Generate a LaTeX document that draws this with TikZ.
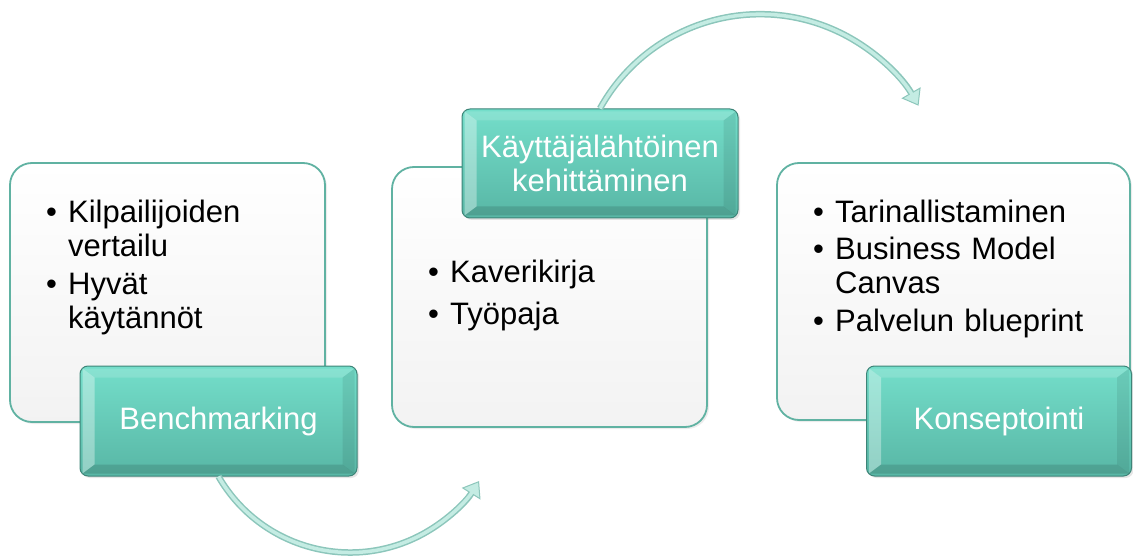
\documentclass[tikz,border=0pt]{standalone}
\usepackage{fontspec}
\setmainfont{Liberation Sans}
\usetikzlibrary{calc,arrows.meta,shadows}
\definecolor{tealA}{RGB}{116,222,202}
\definecolor{tealB}{RGB}{88,182,165}
\definecolor{tealE}{RGB}{62,132,120}
\definecolor{wbord}{RGB}{96,178,162}
\definecolor{arrowc}{RGB}{196,236,227}
\definecolor{arrowe}{RGB}{140,198,187}
\newcommand\bitem[1]{\noindent\makebox[22pt][l]{•}\begin{tabular}[t]{@{}l@{}}#1\end{tabular}\par}
\newcommand\gbevel[1]{%
  \fill[white,opacity=0.35] ($(#1.north west)+(3,-3)$) -- ($(#1.north west)+(15,-12)$) -- ($(#1.south west)+(15,12)$) -- ($(#1.south west)+(3,3)$) -- cycle;
  \fill[white,opacity=0.15] ($(#1.north west)+(3,-3)$) -- ($(#1.north east)+(-3,-3)$) -- ($(#1.north east)+(-15,-12)$) -- ($(#1.north west)+(15,-12)$) -- cycle;
  \fill[black,opacity=0.08] ($(#1.north east)+(-3,-3)$) -- ($(#1.south east)+(-3,3)$) -- ($(#1.south east)+(-15,12)$) -- ($(#1.north east)+(-15,-12)$) -- cycle;
  \fill[black,opacity=0.12] ($(#1.south west)+(3,3)$) -- ($(#1.south east)+(-3,3)$) -- ($(#1.south east)+(-15,12)$) -- ($(#1.south west)+(15,12)$) -- cycle;
}
\tikzset{
  whitebox/.style={draw=wbord, line width=1.8pt, rounded corners=22pt,
    top color=white, bottom color=black!5, inner sep=0pt,
    drop shadow={shadow xshift=2pt, shadow yshift=-2pt, opacity=0.15}},
  greenbox/.style={draw=tealE, line width=1pt, rounded corners=8pt,
    top color=tealA, bottom color=tealB, inner sep=0pt,
    drop shadow={shadow xshift=2pt, shadow yshift=-2pt, opacity=0.2}},
  greenlabel/.style={text=white, align=center, font=\fontsize{31}{34}\selectfont},
  itemtext/.style={anchor=north west, inner sep=0pt, text width=320pt,
    font=\fontsize{31}{34}\selectfont\setlength{\parskip}{#1}\raggedright},
  itemtext/.default=3pt,
  flowedge/.style={line width=6.5pt, arrowe,
    -{Triangle[length=15pt,width=22pt,line width=1pt,fill=arrowc]}},
  flowcore/.style={line width=3.5pt, arrowc, shorten >=13pt},
}
\begin{document}
\begin{tikzpicture}[x=1pt,y=1pt]
\useasboundingbox (0,0) rectangle (1133,-556);
% white boxes
\node[whitebox, minimum width=315pt, minimum height=259pt] (w1) at (167.5,-292.5) {};
\node[whitebox, minimum width=315pt, minimum height=260pt] (w2) at (549.5,-297) {};
\node[whitebox, minimum width=353pt, minimum height=257pt] (w3) at (953.5,-291.5) {};
% item texts
\node[itemtext] (t1) at (46,-199) {\bitem{Kilpailijoiden\\vertailu}\bitem{Hyvät\\käytännöt}};
\node[itemtext=8pt] (t2) at (428,-259) {\bitem{Kaverikirja}\bitem{Työpaja}};
\node[itemtext] (t3) at (813,-199) {\bitem{Tarinallistaminen}\bitem{Business Model\\Canvas}\bitem{Palvelun blueprint}};
% green boxes
\node[greenbox, minimum width=277pt, minimum height=110pt] (g1) at (218.5,-421) {};
\node[greenbox, minimum width=276pt, minimum height=109pt] (g2) at (600,-163.5) {};
\node[greenbox, minimum width=265pt, minimum height=110pt] (g3) at (999,-421) {};
\gbevel{g1}
\gbevel{g2}
\gbevel{g3}
\node[greenlabel] (l1) at (g1) {Benchmarking};
\node[greenlabel] (l2) at (g2) {Käyttäjälähtöinen\\kehittäminen};
\node[greenlabel] (l3) at (g3) {Konseptointi};
% curved arrows
\draw[flowedge] (g1.south) arc[start angle=210, end angle=328, radius=152];
\draw[flowcore] (g1.south) arc[start angle=210, end angle=328, radius=152];
\draw[flowedge] (g2.north) arc[start angle=151, end angle=30, radius=183];
\draw[flowcore] (g2.north) arc[start angle=151, end angle=30, radius=183];
\end{tikzpicture}
\end{document}
